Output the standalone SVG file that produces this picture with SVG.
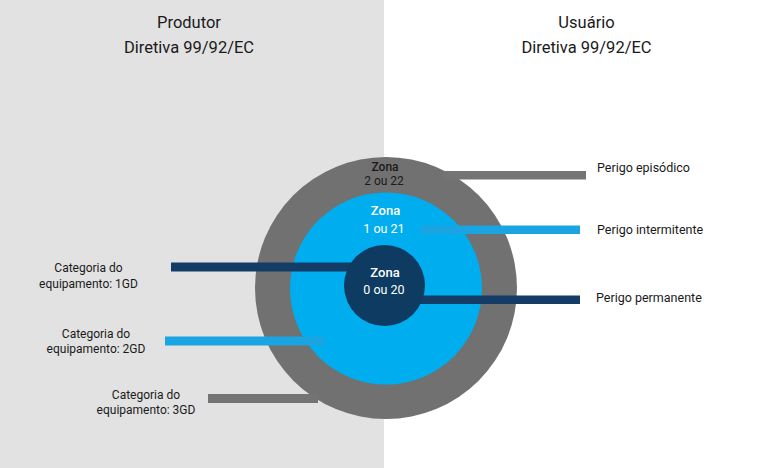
<svg xmlns="http://www.w3.org/2000/svg" width="769" height="468" viewBox="0 0 769 468">
<style>
.hdr{font-family:Roboto,"Liberation Sans",Arial,sans-serif;font-size:16.5px;fill:#1a1a1a;text-anchor:middle}
.lbl{font-family:Roboto,"Liberation Sans",Arial,sans-serif;font-size:12.5px;fill:#1a1a1a}
.cat{font-family:Roboto,"Liberation Sans",Arial,sans-serif;font-size:12px;fill:#1a1a1a;text-anchor:middle}
.zn{font-family:Roboto,"Liberation Sans",sans-serif;font-size:12.5px;text-anchor:middle}
.znb{font-weight:500;font-size:13px}
.sm{font-size:12px}
</style>
<rect x="0" y="0" width="769" height="468" fill="#ffffff"/>
<rect x="0" y="0" width="384" height="468" fill="#e2e2e2"/>
<g id="hdr-produtor">
<text class="hdr" x="189" y="28">Produtor</text>
<text class="hdr" x="189" y="53">Diretiva 99/92/EC</text>
</g>
<g id="hdr-usuario">
<text class="hdr" x="586.5" y="28">Usuário</text>
<text class="hdr" x="586.5" y="53">Diretiva 99/92/EC</text>
</g>
<g id="zona2">
<circle cx="386" cy="288" r="131" fill="#727171"/>
<text class="zn znb sm" x="385" y="170.5" fill="#1a1a1a">Zona</text>
<text class="zn sm" x="384" y="185" fill="#1a1a1a">2 ou 22</text>
</g>
<g id="zona1">
<circle cx="386" cy="288.5" r="96" fill="#00adee"/>
<text class="zn znb" x="385.5" y="215" fill="#ffffff">Zona</text>
<text class="zn" x="384" y="232.5" fill="#ffffff">1 ou 21</text>
</g>
<g id="connectors">
<rect x="443" y="171" width="143" height="8.5" fill="#757474"/>
<rect x="420" y="225.5" width="160" height="8.5" fill="#1aa4e2"/>
<rect x="415" y="295.5" width="165" height="8.5" fill="#133c66"/>
<rect x="171" y="262.5" width="180" height="9" fill="#133c66"/>
<rect x="165" y="336.5" width="160" height="9" fill="#1aa4e2"/>
<rect x="208" y="394" width="110" height="9" fill="#757474"/>
</g>
<g id="zona0">
<circle cx="384.5" cy="285.5" r="40.5" fill="#0d3b62"/>
<text class="zn znb" x="385" y="276.5" fill="#ffffff">Zona</text>
<text class="zn" x="384" y="294" fill="#ffffff">0 ou 20</text>
</g>
<g id="perigo-episodico"><text class="lbl" x="597" y="172">Perigo episódico</text></g>
<g id="perigo-intermitente"><text class="lbl" x="597" y="233.5">Perigo intermitente</text></g>
<g id="perigo-permanente"><text class="lbl" x="596" y="302">Perigo permanente</text></g>
<g id="cat-1gd">
<text class="cat" x="88.5" y="271.5">Categoria do</text>
<text class="cat" x="88.5" y="287.5">equipamento: 1GD</text>
</g>
<g id="cat-2gd">
<text class="cat" x="96" y="337.5">Categoria do</text>
<text class="cat" x="96" y="353">equipamento: 2GD</text>
</g>
<g id="cat-3gd">
<text class="cat" x="146" y="398.5">Categoria do</text>
<text class="cat" x="146" y="413.5">equipamento: 3GD</text>
</g>
</svg>
